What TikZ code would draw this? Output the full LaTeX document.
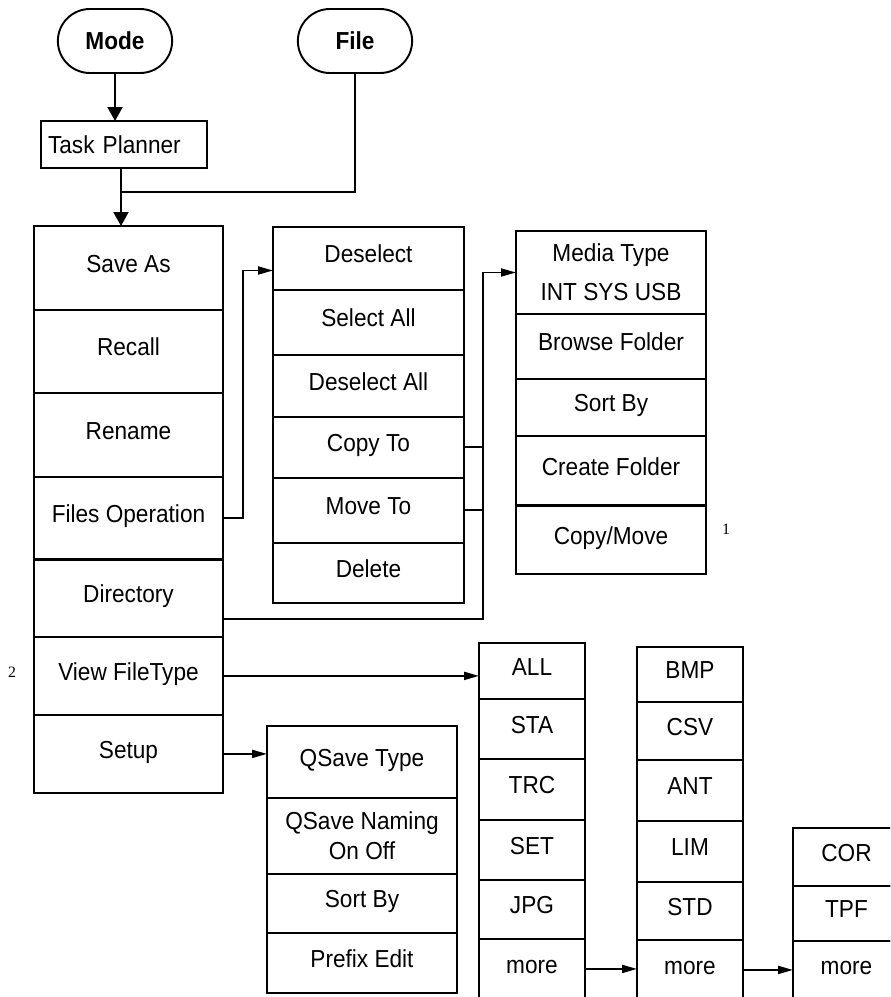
\documentclass[tikz,border=0pt]{standalone}
\usepackage{fontspec}
\setmainfont{Liberation Sans}[FakeStretch=0.92]
\newfontfamily\notefont{Liberation Serif}
\usetikzlibrary{positioning,arrows.meta,calc,shapes.misc}

\tikzset{
  menubox/.style={draw,line width=1.1pt,outer sep=0pt,inner sep=2pt,align=center,text height=10pt,text depth=5pt},
  tworow/.style={text height=,text depth=},
  mainrow/.style={menubox,minimum width=3.78cm},
  filerow/.style={menubox,minimum width=3.82cm},
  mediarow/.style={menubox,minimum width=3.8cm},
  setuprow/.style={menubox,minimum width=3.8cm},
  typerow/.style={menubox,minimum width=2.12cm},
  keybox/.style={draw,line width=1.1pt,rounded rectangle,minimum width=2.52cm,minimum height=1.28cm,font=\fontsize{14}{17}\selectfont\bfseries},
  thicksep/.style={line width=1.7pt},
  link/.style={line width=1.1pt},
  downlink/.style={link,->,>={Triangle[length=0.28cm,width=0.3cm]}},
}

\begin{document}
\begin{tikzpicture}[x=0.02cm,y=-0.02cm,>={Triangle[length=0.3cm,width=0.16cm]},font=\fontsize{14}{17}\selectfont]
  \clip (0,0) rectangle (890,997);

  % hard keys
  \node[keybox] (mode) at (115,41) {Mode};
  \node[keybox] (file) at (355,41) {File};
  \node[menubox,tworow,minimum width=3.32cm,minimum height=0.94cm,text width=3.04cm,inner xsep=0.14cm,align=left] (taskp) at (124,144.5) {Task Planner};

  % file menu
  \node[mainrow,anchor=north west,minimum height=1.68cm] (saveas) at (34,226) {Save As};
  \node[mainrow,below=0pt of saveas,minimum height=1.66cm] (recall) {Recall};
  \node[mainrow,below=0pt of recall,minimum height=1.68cm] (rename) {Rename};
  \node[mainrow,below=0pt of rename,minimum height=1.66cm] (filesop) {Files Operation};
  \node[mainrow,below=0pt of filesop,minimum height=1.54cm] (directory) {Directory};
  \node[mainrow,below=0pt of directory,minimum height=1.56cm] (viewtype) {View FileType};
  \node[mainrow,below=0pt of viewtype,minimum height=1.56cm] (setup) {Setup};
  \draw[thicksep] (directory.north west) -- (directory.north east);

  % files operation
  \node[filerow,anchor=north west,minimum height=1.26cm] (deselect) at (273,227) {Deselect};
  \node[filerow,below=0pt of deselect,minimum height=1.3cm] (selall) {Select All};
  \node[filerow,below=0pt of selall,minimum height=1.24cm] (deselall) {Deselect All};
  \node[filerow,below=0pt of deselall,minimum height=1.22cm] (copyto) {Copy To};
  \node[filerow,below=0pt of copyto,minimum height=1.3cm] (moveto) {Move To};
  \node[filerow,below=0pt of moveto,minimum height=1.2cm] (delete) {Delete};

  % directory
  \node[mediarow,tworow,anchor=north west,minimum height=1.66cm] (media) at (516,231) {Media Type\\[5pt]INT SYS USB};
  \node[mediarow,below=0pt of media,minimum height=1.3cm] (browse) {Browse Folder};
  \node[mediarow,below=0pt of browse,minimum height=1.14cm] (sortby) {Sort By};
  \node[mediarow,below=0pt of sortby,minimum height=1.4cm] (create) {Create Folder};
  \node[mediarow,below=0pt of create,minimum height=1.36cm] (copymove) {Copy/Move};
  \draw[thicksep] (copymove.north west) -- (copymove.north east);

  % setup
  \node[setuprow,anchor=north west,minimum height=1.44cm] (qtype) at (267,726) {QSave Type};
  \node[setuprow,tworow,below=0pt of qtype,minimum height=1.52cm] (qnaming) {QSave Naming\\On Off};
  \node[setuprow,below=0pt of qnaming,minimum height=1.18cm] (qsort) {Sort By};
  \node[setuprow,below=0pt of qsort,minimum height=1.2cm] (prefix) {Prefix Edit};

  % file types
  \node[typerow,anchor=north west,minimum height=1.12cm] (all) at (479,643) {ALL};
  \node[typerow,below=0pt of all,minimum height=1.2cm] (sta) {STA};
  \node[typerow,below=0pt of sta,minimum height=1.22cm] (trc) {TRC};
  \node[typerow,below=0pt of trc,minimum height=1.2cm] (set) {SET};
  \node[typerow,below=0pt of set,minimum height=1.18cm] (jpg) {JPG};
  \node[typerow,below=0pt of jpg,minimum height=1.2cm] (moreA) {more};

  \node[typerow,anchor=north west,minimum height=1.1cm] (bmp) at (637,647) {BMP};
  \node[typerow,below=0pt of bmp,minimum height=1.16cm] (csv) {CSV};
  \node[typerow,below=0pt of csv,minimum height=1.22cm] (ant) {ANT};
  \node[typerow,below=0pt of ant,minimum height=1.22cm] (lim) {LIM};
  \node[typerow,below=0pt of lim,minimum height=1.16cm] (std) {STD};
  \node[typerow,below=0pt of std,minimum height=1.2cm] (moreB) {more};

  \node[typerow,anchor=north west,minimum width=2.14cm,minimum height=1.16cm] (cor) at (793,828) {COR};
  \node[typerow,below=0pt of cor,minimum width=2.14cm,minimum height=1.1cm] (tpf) {TPF};
  \node[typerow,below=0pt of tpf,minimum width=2.14cm,minimum height=1.18cm] (moreC) {more};
  \draw[thicksep] (tpf.north west) -- (tpf.north east);

  % notes
  \node[font=\notefont\fontsize{9}{10}\selectfont] (note1) at (726,529) {1};
  \node[font=\notefont\fontsize{9}{10}\selectfont] (note2) at (12,672) {2};

  % connectors
  \coordinate (join) at (121,192);
  \draw[downlink] (mode.south) -- (mode.south |- taskp.north);
  \draw[link] (join |- taskp.south) -- (join);
  \draw[link] (file.south) |- (join);
  \draw[downlink] (join) -- (join |- saveas.north);

  \draw[link,->] (filesop.east) -- ++(20,0) |- ($(deselect.west)+(0,12)$);
  \draw[link] (copyto.east) -- ++(19,0);
  \draw[link] (moveto.east) -- ++(19,0);
  \draw[link,->] ($(directory.east)+(0,21)$) -| ($(copyto.east)+(19,0)$) |- (media.west);
  \draw[link,->] (viewtype.east) -- (viewtype.east -| all.west);
  \draw[link,->] (setup.east) -- (setup.east -| qtype.west);
  \draw[link,->] (moreA.east) -- (moreA.east -| moreB.west);
  \draw[link,->] (moreB.east) -- (moreB.east -| moreC.west);
\end{tikzpicture}
\end{document}
